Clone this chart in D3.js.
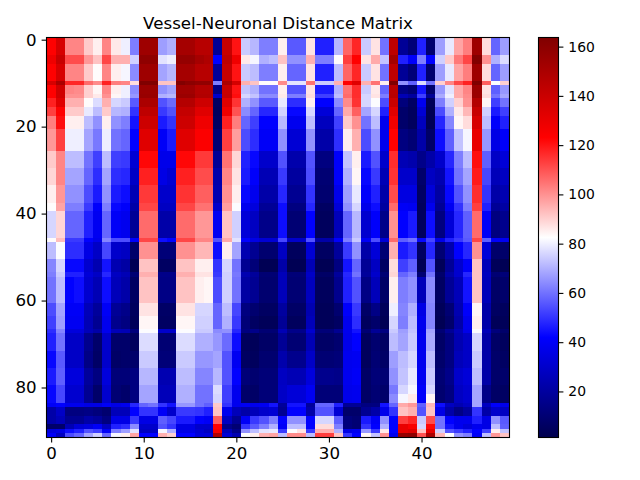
<!DOCTYPE html>
<html>
<head>
<meta charset="utf-8">
<script src="https://cdn.jsdelivr.net/npm/d3@7"></script>
<style>
  body { margin: 0; background: #fff; }
  text { font-family: "DejaVu Sans", sans-serif; fill: #000; }
</style>
</head>
<body>
<div id="chart"></div>
<script>
// how many image rows share each profile below
const rowSpans = [4,2,4,1,2,1,2,2,3,5,4,4,4,2,6,1,4,3,1,6,3,3,1,4,4,4,2,2,1,2,2,1,1,1];

// distance values per column (50 columns)
const rowProfiles = [
  [123,136,102,102,91,85,102,86,80,62,154,154,67,70,152,152,146,146,18,141,120,74,71,62,62,85,56,56,87,47,47,71,107,117,74,87,60,144,18,11,47,9,67,79,97,103,154,88,58,67],
  [128,141,111,111,99,92,112,95,95,75,159,159,78,80,157,157,152,149,42,144,128,86,81,70,72,92,65,65,95,62,62,83,113,123,87,96,73,152,47,41,62,42,75,91,104,112,163,100,70,77],
  [123,136,102,102,91,83,102,85,81,64,154,154,68,71,152,152,146,146,19,141,120,74,72,62,62,85,58,58,87,47,47,72,107,117,74,87,60,144,18,11,47,9,67,79,97,103,154,88,58,67],
  [136,150,117,117,106,101,118,103,102,88,164,164,92,92,163,160,158,158,62,150,137,95,92,83,83,101,78,78,105,74,74,95,123,133,95,105,85,164,65,57,77,60,90,102,112,118,164,108,82,90],
  [123,138,102,101,90,84,102,85,80,64,155,155,65,68,153,153,147,147,14,141,120,73,70,60,60,85,55,55,87,46,46,70,105,116,74,86,58,145,14,10,45,8,66,78,96,102,155,87,57,66],
  [123,138,100,100,90,86,100,84,80,66,156,156,70,71,155,155,148,148,30,142,121,76,73,64,64,86,62,62,88,52,52,72,106,116,76,87,62,146,25,20,52,18,69,80,96,101,155,88,60,68],
  [118,133,95,95,83,77,95,76,74,56,150,150,55,59,147,147,139,139,6,133,115,70,65,56,56,79,49,49,85,42,42,64,101,115,76,82,54,140,12,6,38,4,62,75,90,100,147,84,52,60],
  [113,123,91,91,79,72,91,71,70,50,144,144,51,55,142,142,133,133,5,128,110,64,58,48,48,75,43,43,76,33,33,58,96,108,68,76,47,133,8,5,32,3,54,70,86,94,141,75,46,52],
  [103,121,85,85,72,65,85,65,62,45,139,139,46,50,139,139,128,128,6,118,103,58,52,42,42,71,38,38,72,27,27,52,91,100,60,72,38,128,8,5,27,3,48,63,84,88,136,72,41,47],
  [99,113,80,80,68,61,80,60,58,42,133,133,40,46,133,133,124,124,10,113,98,54,49,40,40,65,32,32,65,22,22,49,85,95,54,65,38,123,13,10,22,7,44,57,73,81,130,66,36,41],
  [91,102,72,72,60,52,72,52,51,32,122,122,37,37,122,122,114,114,18,105,89,47,43,30,30,55,23,23,55,13,13,41,73,85,46,55,30,116,25,23,15,22,30,48,62,72,121,57,29,33],
  [89,102,68,68,58,49,68,49,48,29,118,118,36,32,118,118,111,111,23,102,87,46,41,25,25,51,20,20,54,10,10,41,70,84,43,51,25,115,30,30,8,28,24,45,60,68,119,53,26,28],
  [85,99,65,65,54,46,65,46,44,25,114,114,30,30,115,115,108,108,24,100,85,43,38,22,22,48,17,17,50,9,9,37,67,79,41,47,22,111,35,35,6,33,21,43,55,65,116,50,22,24],
  [83,97,62,62,51,41,62,43,41,22,112,112,28,28,112,112,105,105,30,98,82,38,34,18,18,44,13,13,48,6,6,33,65,76,37,44,20,106,40,39,5,38,18,39,50,62,113,47,18,21],
  [76,89,58,58,47,39,58,40,38,18,106,106,22,22,106,106,99,99,39,92,75,33,28,15,15,44,10,10,42,5,5,26,58,71,31,41,15,100,42,46,5,44,13,33,48,57,106,40,13,16],
  [83,93,51,51,42,37,63,54,54,41,112,112,44,42,112,112,102,102,55,96,78,42,36,32,32,53,30,30,55,22,22,41,62,74,40,54,33,106,57,60,43,53,37,47,51,56,112,57,41,39],
  [72,82,49,49,36,29,53,30,28,8,100,100,11,11,100,100,94,94,44,85,68,24,17,9,9,28,5,5,32,6,6,19,51,65,22,33,10,95,46,50,6,48,10,23,42,48,100,33,8,8],
  [63,76,43,43,31,24,45,24,21,3,92,92,6,6,92,92,85,85,50,76,60,17,11,3,3,22,3,3,25,3,3,13,45,58,18,28,6,88,52,57,3,55,4,18,31,41,92,26,4,3],
  [62,74,47,47,33,29,48,28,25,10,95,95,15,15,95,95,87,87,51,75,61,24,19,10,10,26,11,11,29,7,7,19,48,60,19,30,10,89,58,62,10,60,8,22,31,48,92,27,10,11],
  [60,72,42,44,31,25,44,26,22,6,92,92,14,14,92,92,85,84,54,75,60,21,17,9,9,26,10,10,27,5,5,16,47,55,14,26,7,85,62,65,26,64,6,18,26,45,92,26,7,8],
  [54,68,40,40,26,19,40,18,15,5,87,87,7,7,87,87,76,76,58,72,53,13,9,6,6,20,7,7,24,4,4,9,41,51,7,14,4,80,63,70,36,63,4,10,24,41,84,22,6,5],
  [52,67,39,39,25,17,38,16,13,4,84,84,6,6,84,84,75,75,58,70,51,11,6,4,4,18,5,5,26,4,4,6,38,49,5,8,3,76,62,72,38,63,3,8,22,38,85,22,4,4],
  [49,63,34,34,26,22,38,26,25,12,82,82,30,30,82,82,74,74,64,65,48,13,15,10,10,25,15,15,31,11,11,17,38,45,10,18,13,74,67,73,37,68,10,18,26,37,82,26,12,8],
  [47,60,29,29,16,8,30,8,8,5,77,77,10,10,77,77,70,70,66,59,44,5,4,7,7,18,10,10,25,7,7,9,37,42,5,9,6,72,68,74,38,69,7,13,24,29,76,22,7,5],
  [43,56,29,29,14,7,30,7,8,8,74,74,11,11,74,74,66,66,68,55,39,6,5,9,9,23,16,16,29,10,10,11,38,39,5,10,7,67,72,76,38,72,8,13,26,29,74,22,8,6],
  [46,57,34,34,19,13,34,11,11,13,71,71,24,24,72,72,63,63,71,55,42,11,9,11,11,28,25,25,34,16,16,15,38,40,7,11,10,65,73,79,39,74,10,15,30,33,72,22,8,8],
  [43,53,31,31,17,8,31,10,8,13,68,68,26,26,70,70,60,60,77,52,38,8,7,11,11,29,33,33,39,11,11,11,37,38,7,10,8,61,76,81,41,76,9,13,28,31,68,15,7,6],
  [43,53,31,31,17,8,31,10,8,13,68,68,26,26,70,70,60,60,76,52,38,8,7,11,11,29,33,33,39,11,11,11,37,38,7,10,8,64,81,86,41,84,9,13,28,31,68,15,7,6],
  [40,42,38,38,36,36,40,36,38,48,58,60,50,45,66,66,60,57,91,50,38,39,38,39,45,19,45,45,19,58,58,47,18,18,13,13,45,58,96,99,57,94,44,28,24,28,68,28,41,37],
  [22,29,13,13,14,12,9,26,26,42,50,50,40,30,51,51,50,47,92,38,26,22,26,30,32,17,42,42,22,55,55,32,8,8,17,22,37,50,92,95,55,92,36,22,14,20,50,22,30,28],
  [22,26,17,17,22,19,13,36,36,51,36,36,57,53,46,46,42,40,108,28,17,40,51,55,62,42,65,65,42,76,76,57,12,10,46,40,65,42,113,117,74,111,60,42,38,38,47,36,65,56],
  [8,8,25,33,35,40,28,47,49,64,30,30,55,50,36,36,30,30,123,15,10,50,56,62,70,40,72,72,42,88,88,62,12,10,50,42,70,42,130,125,76,122,60,45,38,34,38,36,72,57],
  [34,36,44,47,55,52,40,62,67,78,28,28,81,70,36,36,32,28,125,26,15,65,72,78,79,51,82,87,51,95,95,70,36,38,66,51,86,42,130,133,92,130,75,55,51,47,42,52,85,73],
  [40,28,54,58,68,75,58,81,85,97,42,42,95,90,42,42,34,34,148,32,24,82,85,95,97,72,101,101,72,113,113,92,50,42,84,73,100,38,157,159,110,150,94,82,65,62,40,72,99,92]
];

const xTicks = [0, 10, 20, 30, 40];
const yTicks = [0, 20, 40, 60, 80];
const barTicks = [20, 40, 60, 80, 100, 120, 140, 160];

const vmin = 1.3, vmax = 163.7;
const nCols = rowProfiles[0].length;
const nRows = d3.sum(rowSpans);

const width = 640, height = 480;
const left = 46.5, right = 509.5, top_ = 37.5, bottom = 437.5;
const barLeft = 538.5, barRight = 558.5;

const svg = d3.select("#chart").append("svg")
    .attr("width", width)
    .attr("height", height)
    .style("display", "block");

const x = d3.scaleLinear().domain([-0.5, nCols - 0.5]).range([left, right]);
const y = d3.scaleLinear().domain([-0.5, nRows - 0.5]).range([top_, bottom]);

// seismic colormap
const color = d3.scaleLinear()
    .domain([0, 0.25, 0.5, 0.75, 1].map(t => vmin + t * (vmax - vmin)))
    .range(["rgb(0,0,77)", "rgb(0,0,255)", "rgb(255,255,255)", "rgb(255,0,0)", "rgb(128,0,0)"])
    .clamp(true);

// expand the profiles to one entry per cell
const cells = [];
let rowStart = 0;
rowProfiles.forEach((profile, i) => {
    profile.forEach((v, c) => {
        cells.push({ col: c, row: rowStart, span: rowSpans[i], value: v });
    });
    rowStart += rowSpans[i];
});

svg.append("g")
    .selectAll("rect")
    .data(cells)
    .join("rect")
    .attr("x", d => x(d.col - 0.5))
    .attr("y", d => y(d.row - 0.5))
    .attr("width", x(1) - x(0) + 0.4)
    .attr("height", d => (y(1) - y(0)) * d.span + 0.4)
    .attr("fill", d => color(d.value))
    .attr("shape-rendering", "crispEdges");

function styleAxis(g, fontSize) {
    g.selectAll("text").style("font-size", fontSize);
    g.selectAll("line").attr("stroke", "#000").attr("stroke-width", 1.1);
    g.select(".domain").remove();
}

svg.append("g")
    .attr("transform", "translate(0," + bottom + ")")
    .call(d3.axisBottom(x).tickValues(xTicks).tickSize(4.9).tickPadding(4.9))
    .call(styleAxis, "16.67px");

svg.append("g")
    .attr("transform", "translate(" + left + ",0)")
    .call(d3.axisLeft(y).tickValues(yTicks).tickSize(4.9).tickPadding(4.9))
    .call(styleAxis, "16.67px");

svg.append("rect")
    .attr("x", left).attr("y", top_)
    .attr("width", right - left).attr("height", bottom - top_)
    .attr("fill", "none").attr("stroke", "#000").attr("stroke-width", 1.1);

svg.append("text")
    .attr("x", (left + right) / 2)
    .attr("y", 29)
    .attr("text-anchor", "middle")
    .style("font-size", "16.67px")
    .text("Vessel-Neuronal Distance Matrix");

// colorbar
const grad = svg.append("defs").append("linearGradient")
    .attr("id", "bar")
    .attr("x1", 0).attr("y1", 1).attr("x2", 0).attr("y2", 0);
grad.selectAll("stop")
    .data(color.domain())
    .join("stop")
    .attr("offset", d => (d - vmin) / (vmax - vmin))
    .attr("stop-color", d => color(d));

const barScale = d3.scaleLinear().domain([vmin, vmax]).range([bottom, top_]);

svg.append("rect")
    .attr("x", barLeft).attr("y", top_)
    .attr("width", barRight - barLeft).attr("height", bottom - top_)
    .attr("fill", "url(#bar)")
    .attr("stroke", "#000").attr("stroke-width", 1.1);

svg.append("g")
    .attr("transform", "translate(" + barRight + ",0)")
    .call(d3.axisRight(barScale).tickValues(barTicks).tickSize(4.9).tickPadding(4.9))
    .call(styleAxis, "13.9px");
</script>
</body>
</html>
